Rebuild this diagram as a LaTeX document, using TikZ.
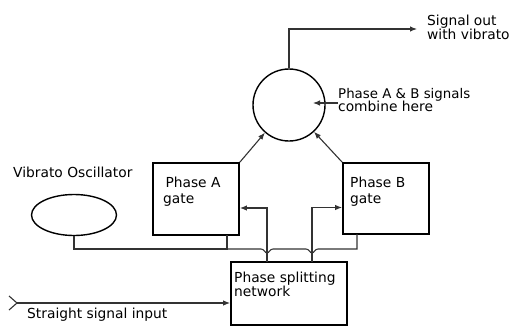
\documentclass[tikz,border=0pt]{standalone}
\usepackage{fontspec}
\usepackage{graphicx}
\setmainfont{DejaVu Sans}
\usetikzlibrary{arrows.meta,shapes.geometric}
\begin{document}
\begin{tikzpicture}[x=1pt,y=-1pt,
  box/.style={draw,line width=1.8pt,rectangle,inner sep=0pt},
  wire/.style={line width=1.1pt,draw=black!80},
  arr/.style={wire,-{Latex[length=7pt,width=5.5pt]}},
  lbl/.style={anchor=base west,inner sep=0pt,font=\fontsize{13.8}{15}\selectfont,align=left},
]
\useasboundingbox (0,0) rectangle (511,327);
% shapes
\node[draw,circle,line width=1.4pt,minimum size=72pt,inner sep=0pt] (comb) at (289,105) {};
\node[box,minimum width=86pt,minimum height=72pt] (gateA) at (196,199) {};
\node[box,minimum width=86pt,minimum height=71pt] (gateB) at (386,198.5) {};
\node[box,minimum width=116pt,minimum height=63pt] (net) at (289,293.5) {};
\node[draw,ellipse,line width=1.4pt,minimum width=85pt,minimum height=41pt,inner sep=0pt] (osc) at (74,215) {};
% texts (anchor = baseline of last line)
\node[lbl] (tvib) at (13,177) {Vibrato Oscillator};
\node[lbl] (tA) at (163,203) {\,Phase A\\[1pt]gate};
\node[lbl] (tB) at (350,203) {Phase B\\[1pt]gate};
\node[lbl] (tnet) at (234,296) {Phase splitting\\[-1pt]network};
\node[lbl] (tin) at (27,318) {Straight signal input};
\node[lbl] (tout) at (427,39) {Signal out\\[-1pt]with vibrato};
\node[lbl] (tcomb) at (338,111) {\resizebox{132pt}{!}{Phase A \& B signals}\\[-2pt]combine here};
% coordinates
\coordinate (outc) at (417,29);
\coordinate (cin) at (313,103);
\coordinate (cinl) at (338,103);
\coordinate (nA) at (267,262);
\coordinate (nB) at (312,262);
\coordinate (inS) at (17,303);
% connectors
\draw[arr] (comb.north) |- (outc);
\draw[arr] (gateA.north east) -- (comb.229);
\draw[arr] (gateB.north west) -- (comb.313);
\draw[arr] (cinl) -- (cin);
\draw[arr] (nA) |- ([yshift=-9pt]gateA.east);
\draw[arr] (nB) |- ([yshift=-9pt]gateB.west);
% vibrato control line with hops
\draw[wire] (osc.south) |- (227,249) -- (227,235);
\draw[wire] (227,249) -- (261,249) .. controls (264,249) and (265,253) .. (267,253)
  .. controls (269,253) and (270,249) .. (273,249) -- (306,249)
  .. controls (309,249) and (310,253) .. (312,253)
  .. controls (314,253) and (315,249) .. (318,249) -- (357,249) -- (357,234);
% input
\draw[wire] (9,296) -- (inS) -- (9,310);
\draw[arr] (inS) -- (net.west |- inS);
\end{tikzpicture}
\end{document}
